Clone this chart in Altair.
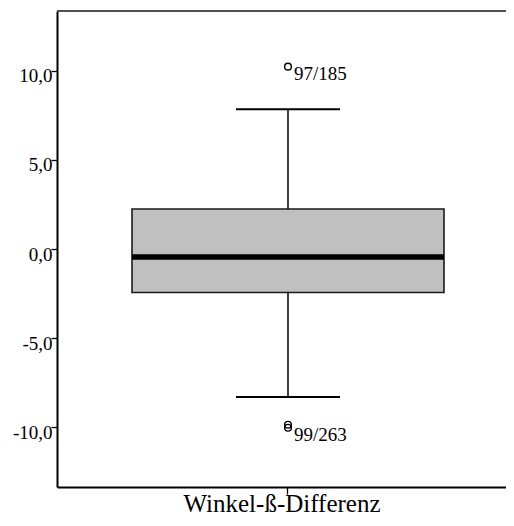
import altair as alt
import pandas as pd

# ---- data ----
category = ["Winkel-ß-Differenz"]
q1 = [-2.44]
q3 = [2.24]
median = [-0.45]
whisker_low = [-8.30]
whisker_high = [7.84]

outlier_values = [10.22, -9.85, -10.02]
outlier_labels = ["97/185", "", "99/263"]

y_ticks = [-10, -5, 0, 5, 10]
y_domain = [-13.34, 13.34]

FONT = "Liberation Serif"
PLOT_W = 449

box_df = pd.DataFrame({
    "cat": category,
    "q1": q1,
    "q3": q3,
    "median": median,
    "lo": whisker_low,
    "hi": whisker_high,
})
out_df = pd.DataFrame({
    "cat": category * len(outlier_values),
    "value": outlier_values,
    "label": outlier_labels,
})

x_scale = alt.Scale(paddingInner=0, paddingOuter=1, align=0.5217)
y_scale = alt.Scale(domain=y_domain, nice=False, zero=False)

x_enc = alt.X(
    "cat:N",
    scale=x_scale,
    axis=alt.Axis(
        title=None,
        labelAngle=0,
        labelAlign="center",
        labelFont=FONT,
        labelFontSize=25,
        labelColor="black",
        labelPadding=-2.5,
        labelOffset=-6,
        labelLimit=600,
        labelBaseline="top",
        labelFlush=False,
        tickSize=7,
        tickColor="black",
        tickWidth=1.3,
        domainColor="black",
        domainWidth=2,
        grid=False,
    ),
)

y_axis = alt.Axis(
    title=None,
    values=y_ticks,
    labelExpr="(datum.value < 0 ? '-' : '') + replace(format(abs(datum.value), '.1f'), '.', ',')",
    labelFont=FONT,
    labelFontSize=19,
    labelColor="black",
    labelPadding=-1,
    labelOffset=5,
    labelBaseline="middle",
    tickSize=6,
    tickColor="black",
    tickWidth=1.3,
    domainColor="black",
    domainWidth=2,
    grid=False,
)

base = alt.Chart(box_df)

whisker_up = base.mark_rule(color="black", strokeWidth=1.5).encode(
    x=x_enc,
    y=alt.Y("q3:Q", scale=y_scale, axis=y_axis),
    y2="hi:Q",
)
whisker_down = base.mark_rule(color="black", strokeWidth=1.5).encode(
    x="cat:N", y="lo:Q", y2="q1:Q"
)
cap_hi = base.mark_tick(color="black", size=104, thickness=2, opacity=1).encode(
    x="cat:N", y="hi:Q"
)
cap_lo = base.mark_tick(color="black", size=104, thickness=2, opacity=1).encode(
    x="cat:N", y="lo:Q"
)
box = base.mark_bar(
    size=312, color="#c0c0c0", stroke="#1a1a1a", strokeWidth=1.6, opacity=1
).encode(x="cat:N", y="q1:Q", y2="q3:Q")
med = base.mark_tick(color="black", size=312, thickness=5.5, opacity=1).encode(
    x="cat:N", y="median:Q"
)

points = alt.Chart(out_df).mark_point(
    shape="circle", size=45, filled=False, color="black", strokeWidth=1.4, opacity=1
).encode(x="cat:N", y="value:Q")

labels = alt.Chart(out_df).mark_text(
    align="left", baseline="alphabetic", dx=6, dy=13,
    font=FONT, fontSize=19, color="black"
).encode(x="cat:N", y="value:Q", text="label:N")

top_line = base.mark_rule(color="#505050", strokeWidth=2).encode(
    x=alt.value(0), x2=alt.value(PLOT_W), y=alt.value(0)
)

chart = alt.layer(
    box, whisker_up, whisker_down, cap_hi, cap_lo, med, points, labels, top_line
).properties(
    width=PLOT_W,
    height=476,
    autosize=alt.AutoSizeParams(type="none"),
    padding={"left": 49, "top": 3, "right": 0, "bottom": 31},
    background="white",
).configure_view(stroke=None)

chart.save("out.html", embed_options={"renderer": "svg", "actions": False})
